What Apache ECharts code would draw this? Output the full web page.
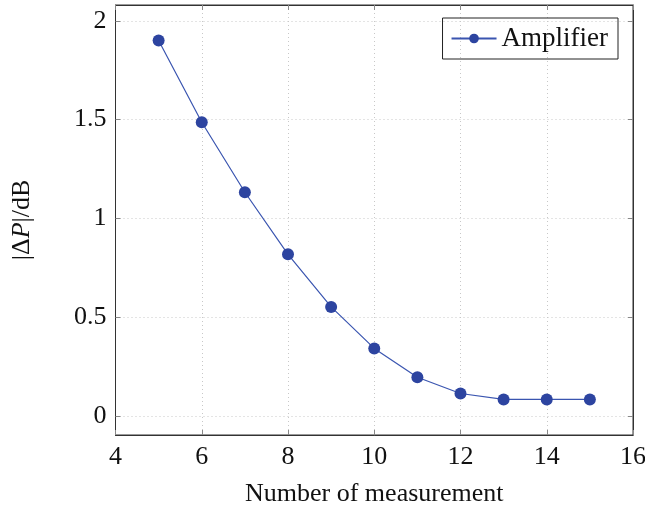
<!DOCTYPE html>
<html>
<head>
<meta charset="utf-8">
<script src="https://cdn.jsdelivr.net/npm/echarts@6/dist/echarts.min.js"></script>
<style>html,body{margin:0;padding:0;background:#fff}#c{width:645px;height:508px}</style>
</head>
<body>
<div id="c"></div>
<script>
const xValues = [5, 6, 7, 8, 9, 10, 11, 12, 13, 14, 15];
const amplifier = [1.900, 1.487, 1.133, 0.819, 0.553, 0.343, 0.197, 0.115, 0.085, 0.085, 0.085];
const seriesName = 'Amplifier';
const xTicks = [4, 6, 8, 10, 12, 14, 16];
const yTicks = [0, 0.5, 1, 1.5, 2];

const FONT = 'Liberation Serif';
const chart = echarts.init(document.getElementById('c'));
const gridLine = {show: true, lineStyle: {color: '#c8c8c8', type: [1, 3], width: 1}};
const tick = {show: true, inside: true, length: 5, lineStyle: {color: '#888'}};
const axisLine = {show: true, onZero: false, lineStyle: {color: '#333'}};
const isTick = (arr) => (v) => arr.some(t => Math.abs(t - v) < 1e-9);
chart.setOption({
  animation: false,
  grid: {left: 115.5, right: 12, top: 5, bottom: 73, show: true, borderColor: '#333', borderWidth: 1,
    containLabel: false, outerBoundsMode: 'none'},
  legend: {
    data: [seriesName], right: 27, top: 18,
    borderColor: '#222', borderWidth: 1, padding: [7, 10, 7, 8],
    itemWidth: 45, itemHeight: 12, itemGap: 6,
    textStyle: {fontFamily: FONT, fontSize: 27, color: '#111'}
  },
  xAxis: [{
    type: 'value', min: 4, max: 16, interval: 2,
    axisLine: axisLine,
    axisTick: tick, splitLine: gridLine,
    axisLabel: {fontFamily: FONT, fontSize: 26, color: '#111', margin: 9},
    name: 'Number of measurement', nameLocation: 'middle', nameGap: 46,
    nameTextStyle: {fontFamily: FONT, fontSize: 26, color: '#111'}
  }, {
    type: 'value', position: 'top', min: 4, max: 16, interval: 2,
    axisLine: axisLine,
    axisTick: tick, splitLine: {show: false}, axisLabel: {show: false}
  }],
  yAxis: [{
    type: 'value', min: -0.095, max: 2.08, interval: 0.5,
    axisLine: axisLine,
    axisTick: Object.assign({}, tick, {customValues: yTicks}),
    splitLine: gridLine,
    axisLabel: {fontFamily: FONT, fontSize: 26, color: '#111', margin: 9,
      customValues: yTicks, formatter: v => isTick(yTicks)(v) ? String(v) : ''},
    name: '|Δ{i|P}|/dB', nameLocation: 'middle', nameGap: 80,
    nameTextStyle: {fontFamily: FONT, fontSize: 26, color: '#111',
      rich: {i: {fontFamily: FONT, fontStyle: 'italic', fontSize: 26, color: '#111'}}}
  }, {
    type: 'value', position: 'right', min: -0.095, max: 2.08, interval: 0.5,
    axisLine: axisLine,
    axisTick: Object.assign({}, tick, {customValues: yTicks}),
    splitLine: {show: false}, axisLabel: {show: false}
  }],
  series: [{
    name: seriesName, type: 'line',
    data: xValues.map((x, i) => [x, amplifier[i]]),
    symbol: 'circle', symbolSize: 12,
    itemStyle: {color: '#2d44a0'},
    lineStyle: {color: '#3a55b0', width: 1.2}
  }]
});
</script>
</body>
</html>
